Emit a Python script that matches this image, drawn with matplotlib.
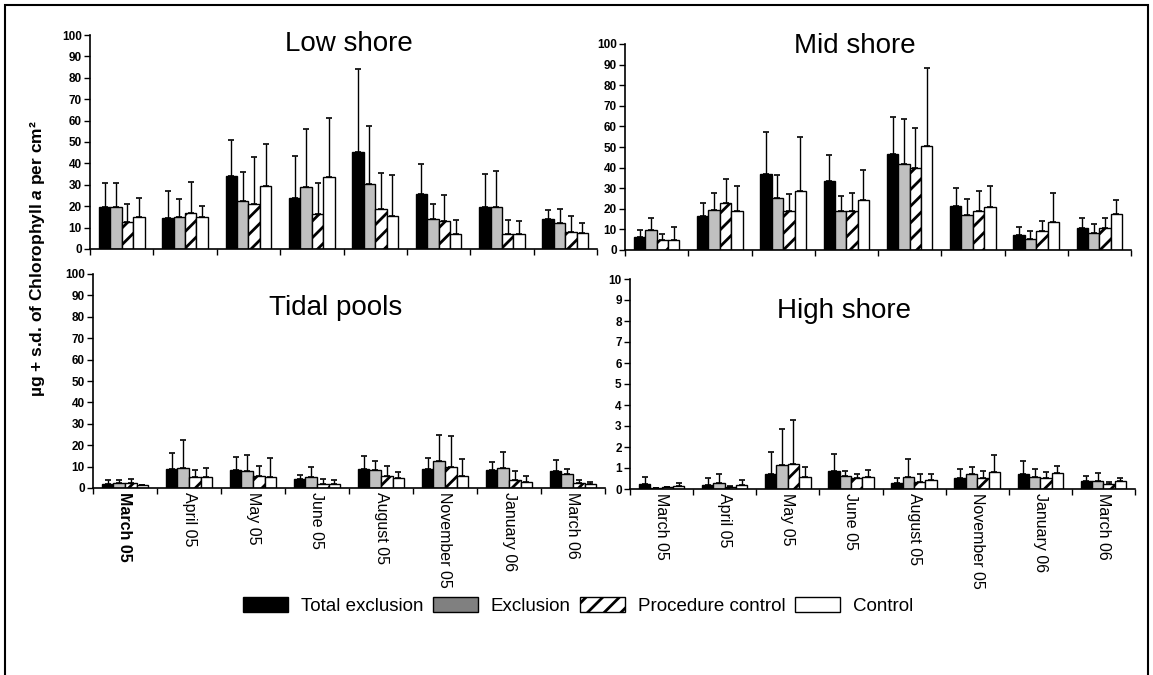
import numpy as np
import matplotlib.pyplot as plt
from matplotlib.patches import Patch, Rectangle

plt.rcParams['font.family'] = ['Liberation Sans', 'DejaVu Sans']
plt.rcParams['hatch.linewidth'] = 2.0
plt.rcParams['mathtext.fontset'] = 'custom'
plt.rcParams['mathtext.it'] = 'Liberation Sans:italic:bold'

months = ["March 05", "April 05", "May 05", "June 05", "August 05",
          "November 05", "January 06", "March 06"]
treatments = ["Total exclusion", "Exclusion", "Procedure control", "Control"]

# mean chlorophyll a per treatment (rows) and month (columns)
low_mean = [[19.5, 14.5, 34, 24, 45.5, 25.5, 19.5, 14],
            [19.5, 15, 22.5, 29, 30.5, 14, 19.5, 12.3],
            [12.5, 17, 21, 16.5, 18.5, 13, 7, 7.8],
            [15, 15, 29.5, 33.5, 15.5, 7.2, 7, 7.6]]
low_sd = [[11.5, 12.5, 17, 19.5, 38.5, 14, 15.5, 4],
          [11.5, 8.5, 13.5, 27, 27, 7, 17, 6.2],
          [8.5, 14.5, 22, 14.5, 17, 12, 6.5, 7.8],
          [9, 5, 19.5, 27.5, 19, 6.3, 6, 4.7]]

mid_mean = [[6.2, 16.5, 37, 33.5, 46.5, 21.5, 7.5, 10.8],
            [9.8, 19.5, 25.2, 19, 41.8, 17, 5.3, 8.2],
            [4.8, 22.8, 19, 19, 39.8, 19, 9, 10.7],
            [5, 19, 28.5, 24.3, 50.5, 21, 13.7, 17.6]]
mid_sd = [[3.3, 6.5, 20.5, 12.5, 18.3, 8.5, 3.5, 4.5],
          [5.7, 8, 11, 7, 21.7, 8, 4, 4.2],
          [3.2, 11.7, 8.3, 8.5, 19.5, 9.5, 5.3, 5],
          [6, 12, 26.5, 14.7, 38, 10, 13.8, 6.5]]

pool_mean = [[1.9, 8.9, 8.6, 4, 9, 9, 8.6, 7.9],
             [2.2, 9.5, 7.9, 5, 8.5, 12.7, 9.4, 6.4],
             [2.2, 5, 5.6, 2, 5.7, 9.7, 3.9, 2.2],
             [1.3, 5.1, 5.1, 2.1, 4.8, 5.7, 2.9, 1.7]]
pool_sd = [[1.7, 7.3, 5.7, 2, 6, 5.2, 3.6, 5],
           [1.7, 12.8, 7.4, 4.6, 4, 12.3, 7.4, 2.6],
           [2.2, 3.6, 4.7, 2.3, 4.6, 14.5, 4.2, 1.7],
           [0.3, 4.4, 8.8, 1.6, 2.7, 7.7, 2.7, 0.9]]

high_mean = [[0.25, 0.2, 0.73, 0.85, 0.3, 0.51, 0.73, 0.37],
             [0.03, 0.29, 1.13, 0.63, 0.58, 0.7, 0.58, 0.4],
             [0.08, 0.1, 1.21, 0.53, 0.33, 0.52, 0.54, 0.24],
             [0.13, 0.2, 0.58, 0.58, 0.42, 0.81, 0.75, 0.4]]
high_sd = [[0.32, 0.33, 1.05, 0.82, 0.22, 0.44, 0.59, 0.26],
           [0.01, 0.41, 1.75, 0.23, 0.86, 0.33, 0.37, 0.36],
           [0.03, 0.06, 2.07, 0.2, 0.37, 0.36, 0.25, 0.11],
           [0.14, 0.25, 0.47, 0.32, 0.28, 0.81, 0.35, 0.12]]

faces = ["black", "#c0c0c0", "white", "white"]
hatches = [None, None, "//", None]

W, H = 1153, 675
fig = plt.figure(figsize=(W / 100, H / 100), dpi=100)


def px_axes(x0, x1, ytop, ybot):
    return fig.add_axes([x0 / W, 1 - ybot / H, (x1 - x0) / W, (ybot - ytop) / H])


def panel(ax, means, sds, ymax, step, title, tx, ty, labels):
    x = np.arange(len(months))
    bw = 0.18
    for k in range(4):
        pos = x + (k - 1.5) * bw
        ax.bar(pos, means[k], bw, color=faces[k], edgecolor="black",
               linewidth=1, hatch=hatches[k], zorder=2)
        ax.errorbar(pos, means[k], yerr=[np.zeros(len(x)), sds[k]], fmt="none",
                    ecolor="black", elinewidth=1, capsize=2.5, capthick=1.2,
                    zorder=1)
    ax.set_xlim(-0.5, len(x) - 0.5)
    ax.set_ylim(0, ymax)
    ax.set_yticks(np.arange(0, ymax + step / 2, step))
    ax.set_xticks(np.arange(len(x) + 1) - 0.5)
    ax.set_xticklabels([])
    ax.tick_params(axis="both", direction="out", length=4, width=1)
    ax.tick_params(axis="x", which="minor", length=0)
    for lab in ax.get_yticklabels():
        lab.set_fontsize(8.5)
        lab.set_fontweight("bold")
    ax.tick_params(axis="y", pad=2)
    for s in ["top", "right"]:
        ax.spines[s].set_visible(False)
    for s in ["left", "bottom"]:
        ax.spines[s].set_linewidth(1.2)
    ax.text(tx, ty, title, transform=ax.transAxes, ha="center", va="center",
            fontsize=20)
    if labels:
        ax.set_xticks(x, minor=True)
        ax.set_xticklabels(months, minor=True, rotation=270, fontsize=11.5,
                           va="top", ha="center")
        ax.tick_params(axis="x", which="minor", pad=3)


ax1 = px_axes(90, 597, 35, 249)
panel(ax1, low_mean, low_sd, 100, 10, "Low shore", 0.51, 0.96, False)
ax2 = px_axes(625, 1131, 44, 250)
panel(ax2, mid_mean, mid_sd, 100, 10, "Mid shore", 0.455, 0.99, False)
ax3 = px_axes(93, 605, 274, 488)
panel(ax3, pool_mean, pool_sd, 100, 10, "Tidal pools", 0.473, 0.84, True)
ax4 = px_axes(630, 1135, 279, 489)
panel(ax4, high_mean, high_sd, 10, 1, "High shore", 0.424, 0.85, True)
ax3.get_xticklabels(minor=True)[0].set_fontweight("bold")

fig.text(38 / W, 1 - 259 / H,
         r"µg + s.d. of Chlorophyll $\it{a}$ per cm²",
         rotation=90, ha="center", va="center", fontsize=12.5, fontweight="bold")

handles = [Patch(facecolor="black", edgecolor="black"),
           Patch(facecolor="#808080", edgecolor="black"),
           Patch(facecolor="white", edgecolor="black", hatch="//"),
           Patch(facecolor="white", edgecolor="black")]
fig.legend(handles, treatments, loc="center", bbox_to_anchor=(578 / W, 1 - 606 / H),
           ncol=4, frameon=False, fontsize=13.5, handlelength=2.4, handleheight=0.8,
           handletextpad=0.7, columnspacing=0.5)

fig.patches.append(Rectangle((5 / W, -0.1), 1143 / W, 1.1 - 5 / H,
                             transform=fig.transFigure, fill=False,
                             edgecolor="black", linewidth=1.5))

fig.savefig("out.png", dpi=100)
